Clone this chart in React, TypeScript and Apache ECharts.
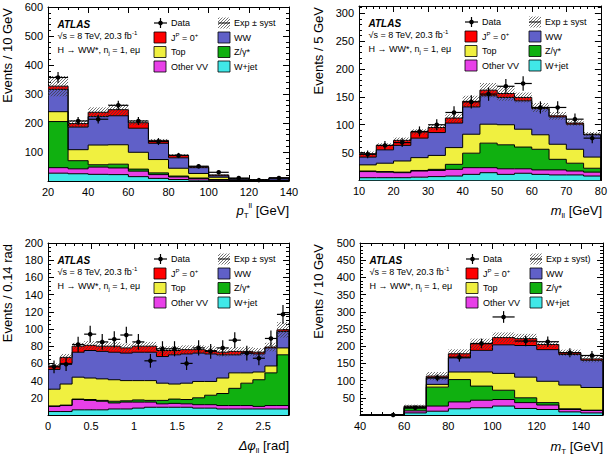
import React, { useEffect, useRef } from 'react';
import * as echarts from 'echarts';

const FONT = '"Liberation Sans", Arial, Helvetica, sans-serif';

// ---------- Panel 1: pT(ll) ----------
const ptEdges = [20, 30, 40, 50, 60, 70, 80, 90, 100, 110, 120, 130, 140];
const ptWjet = [27, 25, 23, 22, 15, 9, 5, 3, 1, 0.5, 0.3, 0.5];
const ptOtherVV = [19, 17, 25, 23, 19, 13, 9, 6, 3, 1.5, 0.7, 1];
const ptZ = [159, 28, 8, 13, 7, 6, 3, 1, 1, 0.5, 0.2, 0.5];
const ptTop = [34, 38, 68, 67, 58, 46, 27, 16, 8, 1.5, 0.8, 1];
const ptWW = [77, 78, 98, 100, 83, 56, 36, 20, 5, 4, 2, 7];
const ptSignal = [11, 12, 15, 21, 19, 10, 9, 3, 3, 1, 1, 1];
const ptSyst = [35, 12, 17, 18, 9, 5, 4, 3, 2, 1, 1, 1];
const ptData = [357, 207, 213, 261, 207, 136, 88, 51, 30, 10, 3, 10];
const ptDataErr = [19, 14, 15, 16, 14, 12, 9, 7, 5, 3, 2, 3];

// ---------- Panel 2: m(ll) ----------
const mllEdges = [10, 15, 20, 25, 30, 35, 40, 45, 50, 55, 60, 65, 70, 75, 80];
const mllWjet = [5, 5, 5, 6, 7, 8, 11, 14, 11, 13, 11, 10, 10, 8];
const mllOtherVV = [11, 10, 9, 11, 11, 12, 12, 9, 10, 8, 8, 9, 7, 7];
const mllZ = [1, 1, 1, 1, 2, 9, 26, 44, 43, 39, 37, 19, 14, 7];
const mllTop = [11, 15, 20, 23, 25, 30, 34, 34, 36, 32, 26, 27, 25, 20];
const mllWW = [14, 24, 28, 35, 41, 44, 49, 51, 49, 51, 47, 49, 45, 40];
const mllSignal = [6, 8, 9, 11, 9, 9, 10, 10, 7, 6, 2, 2, 2, 1];
const mllSyst = [4, 4, 5, 5, 5, 7, 10, 13, 13, 9, 8, 7, 5, 4];
const mllData = [47, 63, 68, 88, 100, 122, 141, 155, 169, 174, 131, 131, 110, 76];
const mllDataErr = [7, 8, 8, 9, 10, 11, 12, 12, 13, 13, 11, 11, 10, 9];

// ---------- Panel 3: dphi(ll) ----------
const dphiEdges = [0, 0.14, 0.28, 0.42, 0.56, 0.7, 0.84, 0.98, 1.12, 1.26, 1.4, 1.54, 1.68, 1.82, 1.96, 2.1, 2.24, 2.38, 2.52, 2.66, 2.8];
const dphiWjet = [4, 4, 6, 6, 6, 7, 7, 8, 9, 9, 9, 9, 8, 8, 7, 7, 7, 7, 7, 7];
const dphiOtherVV = [6, 7, 12, 11, 10, 7, 8, 7, 6, 4, 4.5, 4, 4, 4, 4, 4, 4, 3, 4, 4];
const dphiZ = [0.5, 0.5, 0.5, 1, 1, 2, 1.5, 2.5, 2, 4, 5, 5, 8, 11, 14, 20, 26, 31, 38, 59];
const dphiTop = [19.5, 24.5, 25.5, 25, 25, 25, 23.5, 22.5, 23, 20, 17.5, 19, 19, 16, 18, 18, 12, 9, 8, 8];
const dphiWW = [23, 24, 29, 32, 32, 32, 32, 33, 33, 31, 34, 34, 33, 32, 27, 21, 23, 21, 21, 19];
const dphiSignal = [4, 7, 7, 6, 6, 7, 6, 7, 7, 7, 5, 5, 4, 4, 3, 4, 2, 2, 1, 2];
const dphiSyst = [3, 4, 4, 5, 5, 5, 5, 5, 5, 5, 5, 5, 5, 5, 5, 5, 5, 5, 5, 9];
const dphiData = [56, 59, 82, 94, 85, 88, 93, 85, 63, 77, 77, 60, 78, 74, 78, 87, 72, 66, 89, 117];
const dphiDataErr = [7.5, 7.7, 9, 9.7, 9.2, 9.4, 9.6, 9.2, 8, 8.8, 8.8, 7.7, 8.8, 8.6, 8.8, 9.3, 8.5, 8.1, 9.4, 10.8];

// ---------- Panel 4: mT ----------
const mtEdges = [40, 50, 60, 70, 80, 90, 100, 110, 120, 130, 140, 150];
const mtWjet = [0, 0, 6, 11, 18, 21, 26, 19, 16, 9, 6];
const mtOtherVV = [0, 0, 6, 15, 20, 22, 19, 17, 13, 7, 7];
const mtZ = [0, 0, 8, 55, 65, 41, 27, 14, 7, 2, 1];
const mtTop = [0, 0, 2, 8, 22, 41, 49, 60, 62, 69, 66];
const mtWW = [0, 0, 2, 19, 41, 63, 83, 92, 92, 89, 79];
const mtSignal = [0, 0, 2, 5, 12, 19, 21, 20, 15, 5, 4];
const mtSyst = [0, 0, 4, 12, 13, 15, 15, 14, 10, 9, 10];
const mtData: (number | null)[] = [null, 0, 21, 108, 168, 208, 285, 215, 213, 181, 173];
const mtDataErr = [0, 0, 5, 10, 13, 14, 17, 15, 15, 13, 13];

const compNames = ['W+jet', 'Other VV', 'Z/γ*', 'Top', 'WW', 'Signal'];
const compColors = ['#40e8e8', '#e840e8', '#10b010', '#f0f040', '#6060c8', '#ff0000'];

type Panel = {
  edges: number[];
  comps: number[][];
  syst: number[];
  data: (number | null)[];
  dataErr: number[];
  grid: { left: number; top: number; width: number; height: number };
  x: { min: number; max: number; interval: number; minor: number };
  y: { min: number; max: number; interval: number; minor: number };
  yTitle: string;
  yTitleX: number;
  xTitle: string;
  xTitleY: number;
  systLabel: string;
};

const panels: Panel[] = [
  {
    edges: ptEdges, comps: [ptWjet, ptOtherVV, ptZ, ptTop, ptWW, ptSignal],
    syst: ptSyst, data: ptData, dataErr: ptDataErr,
    grid: { left: 48, top: 7, width: 241, height: 174 },
    x: { min: 20, max: 140, interval: 20, minor: 4 },
    y: { min: 0, max: 600, interval: 100, minor: 5 },
    yTitle: 'Events / 10 GeV', yTitleX: 7.5,
    xTitle: '{i|p}{sub|T}{sup|ll}{n| [GeV]}', xTitleY: 210, systLabel: 'Exp ± syst',
  },
  {
    edges: mllEdges, comps: [mllWjet, mllOtherVV, mllZ, mllTop, mllWW, mllSignal],
    syst: mllSyst, data: mllData, dataErr: mllDataErr,
    grid: { left: 359, top: 6, width: 243, height: 174.5 },
    x: { min: 10, max: 80, interval: 10, minor: 5 },
    y: { min: 0, max: 313, interval: 50, minor: 5 },
    yTitle: 'Events / 5 GeV', yTitleX: 318,
    xTitle: '{i|m}{sub|ll}{n| [GeV]}', xTitleY: 210, systLabel: 'Exp ± syst',
  },
  {
    edges: dphiEdges, comps: [dphiWjet, dphiOtherVV, dphiZ, dphiTop, dphiWW, dphiSignal],
    syst: dphiSyst, data: dphiData, dataErr: dphiDataErr,
    grid: { left: 48, top: 243, width: 241, height: 172 },
    x: { min: 0, max: 2.8, interval: 0.5, minor: 5 },
    y: { min: 0, max: 200, interval: 20, minor: 4 },
    yTitle: 'Events / 0.14 rad', yTitleX: 7.5,
    xTitle: '{i|Δφ}{sub|ll}{n| [rad]}', xTitleY: 445, systLabel: 'Exp ± syst',
  },
  {
    edges: mtEdges, comps: [mtWjet, mtOtherVV, mtZ, mtTop, mtWW, mtSignal],
    syst: mtSyst, data: mtData, dataErr: mtDataErr,
    grid: { left: 360, top: 243, width: 243, height: 172 },
    x: { min: 40, max: 150, interval: 20, minor: 4 },
    y: { min: 0, max: 500, interval: 50, minor: 5 },
    yTitle: 'Events / 10 GeV', yTitleX: 318,
    xTitle: '{i|m}{sub|T}{n| [GeV]}', xTitleY: 446, systLabel: 'Exp ± syst)',
  },
];

function isMultiple(v: number, step: number) {
  const r = v / step;
  return Math.abs(r - Math.round(r)) < 1e-6;
}

// cumulative boundaries: cum[k][i] = sum of comps[0..k-1][i]
function cumulative(comps: number[][]) {
  const n = comps[0].length;
  const cum: number[][] = [new Array(n).fill(0)];
  comps.forEach((arr, k) => {
    cum.push(arr.map((v, i) => cum[k][i] + v));
  });
  return cum;
}

function makeHatch() {
  const c = document.createElement('canvas');
  c.width = 3;
  c.height = 3;
  const ctx = c.getContext('2d')!;
  ctx.strokeStyle = 'rgba(60,60,60,0.9)';
  ctx.lineWidth = 0.8;
  ctx.beginPath();
  ctx.moveTo(-1, 4); ctx.lineTo(4, -1);
  ctx.moveTo(-1, 1); ctx.lineTo(1, -1);
  ctx.moveTo(2, 4); ctx.lineTo(4, 2);
  ctx.stroke();
  return { image: c.toDataURL(), repeat: 'repeat', imageWidth: 3, imageHeight: 3 } as any;
}

const axisCommon = (gridIndex: number, cfg: { min: number; max: number; interval: number; minor: number }, position: string, showLabel: boolean, isY: boolean) => ({
  gridIndex,
  type: 'value',
  position,
  min: cfg.min,
  max: cfg.max,
  interval: cfg.interval,
  axisLine: { show: true, onZero: false, lineStyle: { color: '#000', width: 1 } },
  axisTick: { show: true, inside: true, length: 6, lineStyle: { color: '#000', width: 1 } },
  minorTick: { show: true, splitNumber: cfg.minor, length: 3, lineStyle: { color: '#000', width: 1 } },
  splitLine: { show: false },
  minorSplitLine: { show: false },
  axisLabel: {
    show: showLabel,
    color: '#000',
    fontSize: 11,
    fontFamily: FONT,
    margin: 5,
    formatter: (v: number) => {
      if (!isMultiple(v, cfg.interval)) return '';
      if (isY && v === 0) return '';
      return String(Math.round(v * 1000) / 1000);
    },
  },
});

export default function App() {
  const ref = useRef<HTMLDivElement>(null);

  useEffect(() => {
    document.body.style.margin = '0';
    if (!ref.current) return;
    const chart = echarts.init(ref.current, undefined, { renderer: 'svg' });
    const hatch = makeHatch();

    const grids: any[] = [];
    const xAxes: any[] = [];
    const yAxes: any[] = [];
    const series: any[] = [];
    const graphics: any[] = [];

    const smallRich = {
      n: { fontSize: 9, fontFamily: FONT, lineHeight: 12, color: '#000' },
      sup: { fontSize: 6, fontFamily: FONT, lineHeight: 6, verticalAlign: 'top', color: '#000' },
      sub: { fontSize: 6, fontFamily: FONT, lineHeight: 6, verticalAlign: 'bottom', color: '#000' },
    };

    panels.forEach((p, pi) => {
      grids.push({ ...p.grid, containLabel: false });
      const xi = pi * 2;
      const yi = pi * 2;
      xAxes.push(axisCommon(pi, p.x, 'bottom', true, false));
      xAxes.push(axisCommon(pi, p.x, 'top', false, false));
      yAxes.push(axisCommon(pi, p.y, 'left', true, true));
      yAxes.push(axisCommon(pi, p.y, 'right', false, true));

      const cum = cumulative(p.comps);
      const edges = p.edges;
      const nb = edges.length - 1;

      // step points (pixel) of boundary k, left -> right
      const stepPts = (api: any, k: number) => {
        const pts: number[][] = [];
        for (let i = 0; i < nb; i++) {
          pts.push(api.coord([edges[i], cum[k][i]]));
          pts.push(api.coord([edges[i + 1], cum[k][i]]));
        }
        return pts;
      };

      const layerIdx = p.comps.map((_, k) => [k]);

      // filled layers
      series.push({
        type: 'custom',
        name: `fill-${pi}`,
        xAxisIndex: xi,
        yAxisIndex: yi,
        silent: true,
        clip: true,
        z: 2,
        data: layerIdx,
        renderItem: (params: any, api: any) => {
          const k = params.dataIndex;
          const top = stepPts(api, k + 1);
          const bot = stepPts(api, k).reverse();
          return {
            type: 'polygon',
            shape: { points: top.concat(bot) },
            style: { fill: compColors[k], stroke: null },
          };
        },
      });
      // outlines
      series.push({
        type: 'custom',
        name: `line-${pi}`,
        xAxisIndex: xi,
        yAxisIndex: yi,
        silent: true,
        clip: true,
        z: 3,
        data: layerIdx,
        renderItem: (params: any, api: any) => {
          const k = params.dataIndex;
          const pts = stepPts(api, k + 1);
          // close at the ends down to the axis
          const first = api.coord([edges[0], 0]);
          const last = api.coord([edges[nb], 0]);
          return {
            type: 'polyline',
            shape: { points: [first].concat(pts, [last]) },
            style: { stroke: '#000', lineWidth: 1, fill: null },
          };
        },
      });

      // systematic band
      const bandData = p.syst.map((e, i) => [edges[i], edges[i + 1], cum[cum.length - 1][i], e]);
      series.push({
        type: 'custom',
        xAxisIndex: xi,
        yAxisIndex: yi,
        silent: true,
        clip: true,
        z: 4,
        data: bandData,
        renderItem: (_params: any, api: any) => {
          const lo = api.value(0), hi = api.value(1), c = api.value(2), e = api.value(3);
          if (!(e > 0)) return null;
          const a = api.coord([lo, c + e]);
          const b = api.coord([hi, c - e]);
          return {
            type: 'rect',
            shape: { x: a[0], y: a[1], width: b[0] - a[0], height: b[1] - a[1] },
            style: { fill: hatch, stroke: null },
          };
        },
      });

      // data points
      const pts: number[][] = [];
      p.data.forEach((d, i) => {
        if (d === null || d === undefined) return;
        pts.push([edges[i], edges[i + 1], d, p.dataErr[i]]);
      });
      series.push({
        type: 'custom',
        xAxisIndex: xi,
        yAxisIndex: yi,
        silent: true,
        clip: false,
        z: 5,
        data: pts,
        renderItem: (_params: any, api: any) => {
          const lo = api.value(0), hi = api.value(1), y = api.value(2), e = api.value(3);
          const mid = (lo + hi) / 2;
          const l = api.coord([lo, y]);
          const r = api.coord([hi, y]);
          const c = api.coord([mid, y]);
          const t = api.coord([mid, y + e]);
          const b = api.coord([mid, Math.max(0, y - e)]);
          return {
            type: 'group',
            children: [
              { type: 'line', shape: { x1: l[0], y1: l[1], x2: r[0], y2: r[1] }, style: { stroke: '#000', lineWidth: 1.2 } },
              { type: 'line', shape: { x1: t[0], y1: t[1], x2: b[0], y2: b[1] }, style: { stroke: '#000', lineWidth: 1.2 } },
              { type: 'circle', shape: { cx: c[0], cy: c[1], r: 2.3 }, style: { fill: '#000' } },
            ],
          };
        },
      });

      // ---------- texts / legend ----------
      const gl = p.grid.left;
      const gt = p.grid.top;
      const gr = p.grid.left + p.grid.width;

      graphics.push({
        type: 'text', x: p.yTitleX, y: gt + 1, rotation: Math.PI / 2, silent: true,
        style: { text: p.yTitle, fontSize: 13, fontFamily: FONT, fill: '#000', align: 'right', verticalAlign: 'middle' },
      });
      graphics.push({
        type: 'text', x: gr, y: p.xTitleY, silent: true,
        style: {
          text: p.xTitle, align: 'right', verticalAlign: 'middle', fill: '#000',
          rich: {
            i: { fontSize: 13, fontFamily: FONT, fontStyle: 'italic', lineHeight: 18, color: '#000' },
            n: { fontSize: 13, fontFamily: FONT, lineHeight: 18, color: '#000' },
            sub: { fontSize: 8, fontFamily: FONT, lineHeight: 9, verticalAlign: 'bottom', color: '#000' },
            sup: { fontSize: 8, fontFamily: FONT, lineHeight: 9, verticalAlign: 'top', color: '#000' },
          },
        },
      });

      graphics.push({
        type: 'text', x: gl + 9.5, y: gt + 17.5, silent: true,
        style: { text: 'ATLAS', fontSize: 10, fontWeight: 'bold', fontStyle: 'italic', fontFamily: FONT, fill: '#000', verticalAlign: 'middle' },
      });
      graphics.push({
        type: 'text', x: gl + 9.5, y: gt + 28.5, silent: true,
        style: { text: '{n|√s = 8 TeV, 20.3 fb}{sup|-1}', verticalAlign: 'middle', rich: smallRich },
      });
      graphics.push({
        type: 'text', x: gl + 9.5, y: gt + 42.5, silent: true,
        style: { text: '{n|H → WW*, n}{sub|j}{n| = 1, eμ}', verticalAlign: 'middle', rich: smallRich },
      });

      const rows = [16, 30.5, 45, 59.5].map((r) => gt + r);
      const c1m = gl + 106, c1t = gl + 123, c2m = gl + 170, c2t = gl + 186;
      const bw = 12, bh = 11;
      const box = (x: number, y: number, color: string) => ({
        type: 'rect', silent: true,
        shape: { x, y: y - bh / 2, width: bw, height: bh },
        style: { fill: color, stroke: '#000', lineWidth: 0.8 },
      });
      const label = (x: number, y: number, text: string) => ({
        type: 'text', x, y, silent: true,
        style: { text, verticalAlign: 'middle', rich: smallRich },
      });
      // Data marker
      graphics.push({ type: 'line', silent: true, shape: { x1: c1m, y1: rows[0], x2: c1m + bw + 1, y2: rows[0] }, style: { stroke: '#000', lineWidth: 1.2 } });
      graphics.push({ type: 'line', silent: true, shape: { x1: c1m + 6.5, y1: rows[0] - 5, x2: c1m + 6.5, y2: rows[0] + 5 }, style: { stroke: '#000', lineWidth: 1.2 } });
      graphics.push({ type: 'circle', silent: true, shape: { cx: c1m + 6.5, cy: rows[0], r: 2.3 }, style: { fill: '#000' } });
      graphics.push(label(c1t, rows[0], '{n|Data}'));
      // Exp ± syst
      graphics.push({ type: 'rect', silent: true, shape: { x: c2m, y: rows[0] - bh / 2, width: bw, height: bh }, style: { fill: hatch, stroke: null } });
      graphics.push({ type: 'line', silent: true, shape: { x1: c2m, y1: rows[0], x2: c2m + bw, y2: rows[0] }, style: { stroke: '#000', lineWidth: 1 } });
      graphics.push(label(c2t, rows[0], `{n|${p.systLabel}}`));
      // components
      graphics.push(box(c1m, rows[1], compColors[5]));
      graphics.push(label(c1t, rows[1], '{n|J}{sup|P}{n| = 0}{sup|+}'));
      graphics.push(box(c2m, rows[1], compColors[4]));
      graphics.push(label(c2t, rows[1], '{n|WW}'));
      graphics.push(box(c1m, rows[2], compColors[3]));
      graphics.push(label(c1t, rows[2], '{n|Top}'));
      graphics.push(box(c2m, rows[2], compColors[2]));
      graphics.push(label(c2t, rows[2], '{n|Z/γ*}'));
      graphics.push(box(c1m, rows[3], compColors[1]));
      graphics.push(label(c1t, rows[3], '{n|Other VV}'));
      graphics.push(box(c2m, rows[3], compColors[0]));
      graphics.push(label(c2t, rows[3], '{n|W+jet}'));
    });

    chart.setOption({
      animation: false,
      backgroundColor: '#fff',
      grid: grids,
      xAxis: xAxes,
      yAxis: yAxes,
      series,
      graphic: graphics,
    });

    return () => {
      chart.dispose();
    };
  }, []);

  return <div ref={ref} style={{ width: 610, height: 457 }} />;
}
